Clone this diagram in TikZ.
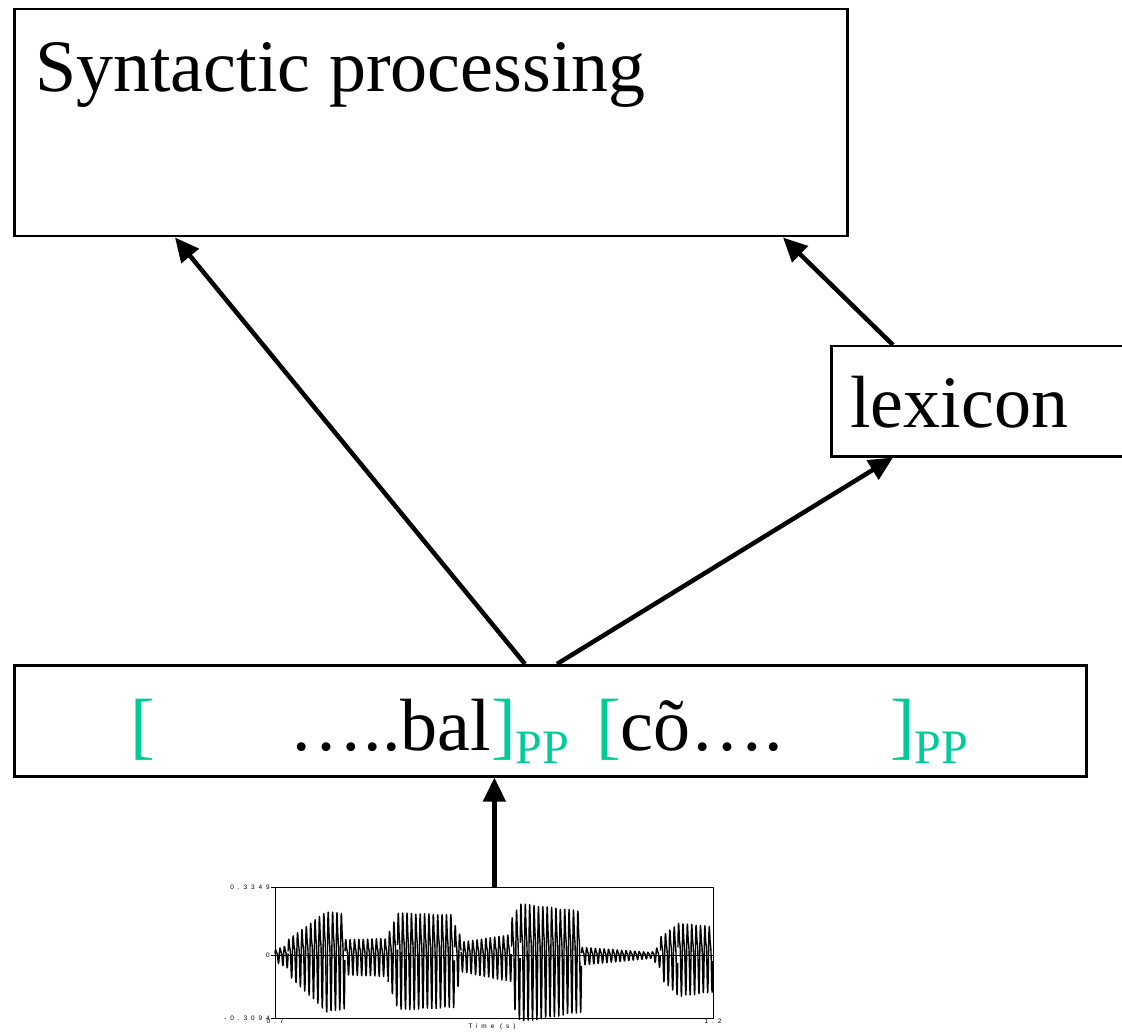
\documentclass[tikz,border=0pt]{standalone}
\usepackage{fontspec}
\setmainfont{Liberation Serif}
\newfontfamily\tickfont[LetterSpace=60]{Liberation Sans}
\usetikzlibrary{arrows.meta,calc}
\definecolor{ppgreen}{RGB}{0,204,153}
\newcommand{\ppsub}[1]{\raisebox{-13pt}{\fontsize{48}{50}\selectfont #1}}
\tikzset{
  box/.style = {draw, line width=2.5pt, rectangle, inner sep=0pt, anchor=north west},
  lbl/.style = {anchor=base west, inner sep=0pt, font=\fontsize{74}{80}\selectfont},
  flow/.style = {line width=4.5pt, -{Triangle[length=24pt,width=22pt]}},
  tick/.style = {inner sep=1pt, font=\tickfont\fontsize{6.5}{7}\selectfont},
  wave/.style = {line width=1.4pt, line join=round}
}

\begin{document}
\begin{tikzpicture}[x=1pt,y=-1pt]
  \useasboundingbox (0,0) rectangle (1122,1032);
  \pgfmathsetmacro{\Left}{275};
  \pgfmathsetmacro{\Breite}{438};
  \pgfmathsetmacro{\Null}{955};
  \pgfmathsetmacro{\Amp}{64};
  %
  % boxes
  \node[box, minimum width=833pt, minimum height=227pt] (syn) at (13,8) {};
  \node[lbl] (syntxt) at (35,92) {Syntactic processing};
  \node[box, minimum width=305pt, minimum height=110pt] (lex) at (830,345) {};
  \node[lbl] (lextxt) at (850,427) {lexicon};
  \node[box, minimum width=1072pt, minimum height=111pt] (pp) at (13,664) {};
  \node[lbl] (pptxt) at (130,750) {\textcolor{ppgreen}{[}\hspace{135pt}…..bal\textcolor{ppgreen}{]\ppsub{PP}}\hspace{27pt}\textcolor{ppgreen}{[}cõ….\hspace{107pt}\textcolor{ppgreen}{]\ppsub{PP}}};
  % waveform
  \node[box, line width=0.8pt, minimum width=438pt, minimum height=131pt] (spec) at (\Left,887) {};
  \draw[line width=0.6pt] (\Left,\Null) -- ++(\Breite,0);
  \foreach \a/\b/\p/\q in {0/0.03/0.1/0.2, 0.03/0.118/0.3/0.85, 0.118/0.16/0.85/0.8,
      0.16/0.258/0.3/0.32, 0.258/0.28/0.4/0.8, 0.28/0.41/0.82/0.78, 0.41/0.425/0.6/0.35,
      0.425/0.54/0.25/0.4, 0.54/0.56/0.7/1, 0.56/0.7/1/0.85, 0.7/0.86/0.15/0.05,
      0.86/0.88/0.05/0.2, 0.88/0.92/0.35/0.6, 0.92/1/0.62/0.55}{
    \pgfmathtruncatemacro{\ns}{(\b-\a)*1800+3}
    \draw[wave] plot[domain=\a:\b, samples=\ns]
      ({\Left+\Breite*\x}, {\Null-\Amp*(\p+(\q-\p)*(\x-\a)/(\b-\a))*(0.8*sin(360*mod(100*\x,1))+0.3*sin(360*mod(200*\x,1)+40))});
  }
  % ticks
  \foreach \yy in {887,955,1018}
    \draw[line width=0.5pt] (\Left,\yy) -- ++(-4,0);
  \node[tick, anchor=east] (ytop) at (271,887) {0.3349};
  \node[tick, anchor=east] (ymid) at (271,955) {0};
  \node[tick, anchor=east] (ybot) at (271,1018) {-0.3094};
  \node[tick, anchor=north] (xl) at (\Left,1018) {0.7};
  \node[tick, anchor=north] (xr) at (713,1018) {1.2};
  \node[tick, anchor=north] (xlab) at (492,1023) {Time (s)};
  % arrows
  \draw[flow] (spec.north) -- (spec.north |- pp.south);
  \draw[flow] ($(pp.north west)+(512,0)$) -- ($(syn.south west)+(162,0)$);
  \draw[flow] ($(pp.north west)+(544,0)$) -- ($(lex.south west)+(63,0)$);
  \draw[flow] ($(lex.north west)+(63,0)$) -- ($(syn.south west)+(770,0)$);
\end{tikzpicture}
\end{document}
